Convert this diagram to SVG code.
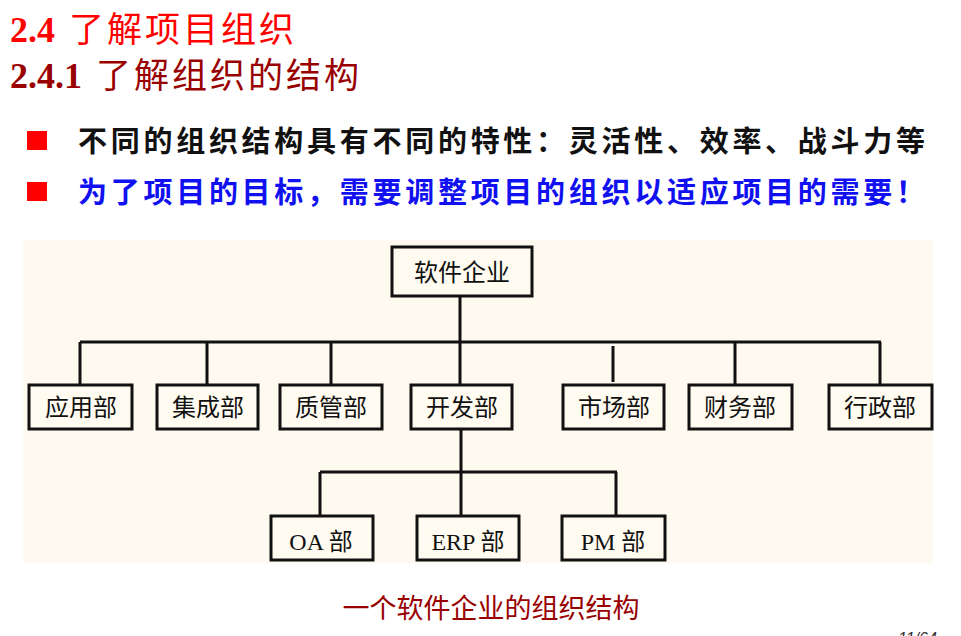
<svg xmlns="http://www.w3.org/2000/svg" width="961" height="636" viewBox="0 0 961 636">
<style>
.t1{font-family:"Liberation Serif","Noto Sans CJK SC",serif;font-size:36px;}
.cjk{font-family:"Noto Sans CJK SC",sans-serif;}
.tc{font-family:"Noto Sans CJK SC",sans-serif;font-size:35px;letter-spacing:3px;}
.box{fill:#fffbf0;stroke:#111;stroke-width:3;}
.lbl{font-family:"Noto Sans CJK SC",sans-serif;font-size:24px;fill:#111;text-anchor:middle;}
.lbl2{font-family:"Liberation Serif","Noto Sans CJK SC",serif;font-size:24px;fill:#111;text-anchor:middle;}
.ln{stroke:#111;stroke-width:3;fill:none;}
</style>
<rect width="961" height="636" fill="#ffffff"/>
<text x="10" y="42" class="t1" fill="#ff0000"><tspan font-weight="bold">2.4</tspan> <tspan class="tc" dx="5">了解项目组织</tspan></text>
<text x="10" y="88" class="t1" fill="#990000"><tspan font-weight="bold">2.4.1</tspan> <tspan class="tc" dx="5">了解组织的结构</tspan></text>
<rect x="27" y="131" width="20" height="19" fill="#ff0000"/>
<rect x="27" y="182" width="20" height="19" fill="#ff0000"/>
<text x="78" y="152" class="cjk" font-size="29" font-weight="bold" fill="#111" textLength="847" lengthAdjust="spacing">不同的组织结构具有不同的特性：灵活性、效率、战斗力等</text>
<text x="78" y="203" class="cjk" font-size="29" font-weight="bold" fill="#1010f0" textLength="847" lengthAdjust="spacing">为了项目的目标，需要调整项目的组织以适应项目的需要！</text>
<rect x="23" y="240" width="910" height="323" fill="#fffaf0"/>
<g id="connectors">
<line class="ln" x1="460" y1="296" x2="460" y2="342"/>
<line class="ln" x1="80" y1="342" x2="881" y2="342"/>
<line class="ln" x1="80" y1="342" x2="80" y2="385"/>
<line class="ln" x1="207" y1="342" x2="207" y2="385"/>
<line class="ln" x1="331" y1="342" x2="331" y2="385"/>
<line class="ln" x1="460" y1="342" x2="460" y2="385"/>
<line class="ln" x1="613" y1="346" x2="613" y2="382"/>
<line class="ln" x1="735" y1="342" x2="735" y2="385"/>
<line class="ln" x1="880" y1="342" x2="880" y2="385"/>
<line class="ln" x1="461" y1="429" x2="461" y2="516"/>
<line class="ln" x1="320" y1="472" x2="617" y2="472"/>
<line class="ln" x1="320" y1="472" x2="320" y2="516"/>
<line class="ln" x1="616" y1="472" x2="616" y2="516"/>
</g>
<g id="n-top"><rect class="box" x="392" y="247" width="140" height="49"/><text class="lbl" x="462" y="281">软件企业</text></g>
<g id="n-yingyong"><rect class="box" x="29" y="385" width="103" height="44"/><text class="lbl" x="81" y="416">应用部</text></g>
<g id="n-jicheng"><rect class="box" x="157" y="385" width="101" height="44"/><text class="lbl" x="208" y="416">集成部</text></g>
<g id="n-zhiguan"><rect class="box" x="280" y="385" width="102" height="44"/><text class="lbl" x="331" y="416">质管部</text></g>
<g id="n-kaifa"><rect class="box" x="411" y="385" width="101" height="44"/><text class="lbl" x="462" y="416">开发部</text></g>
<g id="n-shichang"><rect class="box" x="563" y="385" width="101" height="44"/><text class="lbl" x="614" y="416">市场部</text></g>
<g id="n-caiwu"><rect class="box" x="689" y="385" width="103" height="44"/><text class="lbl" x="740" y="416">财务部</text></g>
<g id="n-xingzheng"><rect class="box" x="829" y="385" width="103" height="44"/><text class="lbl" x="880" y="416">行政部</text></g>
<g id="n-oa"><rect class="box" x="271" y="516" width="102" height="44"/><text class="lbl2" x="321" y="550">OA 部</text></g>
<g id="n-erp"><rect class="box" x="417" y="516" width="102" height="44"/><text class="lbl2" x="468" y="550">ERP 部</text></g>
<g id="n-pm"><rect class="box" x="562" y="516" width="103" height="44"/><text class="lbl2" x="613" y="550">PM 部</text></g>
<text x="491" y="618" class="cjk" font-size="27" fill="#990000" text-anchor="middle">一个软件企业的组织结构</text>
<text x="898" y="644" font-family="Liberation Sans, sans-serif" font-size="16" font-style="italic" fill="#333">11/64</text>
</svg>
